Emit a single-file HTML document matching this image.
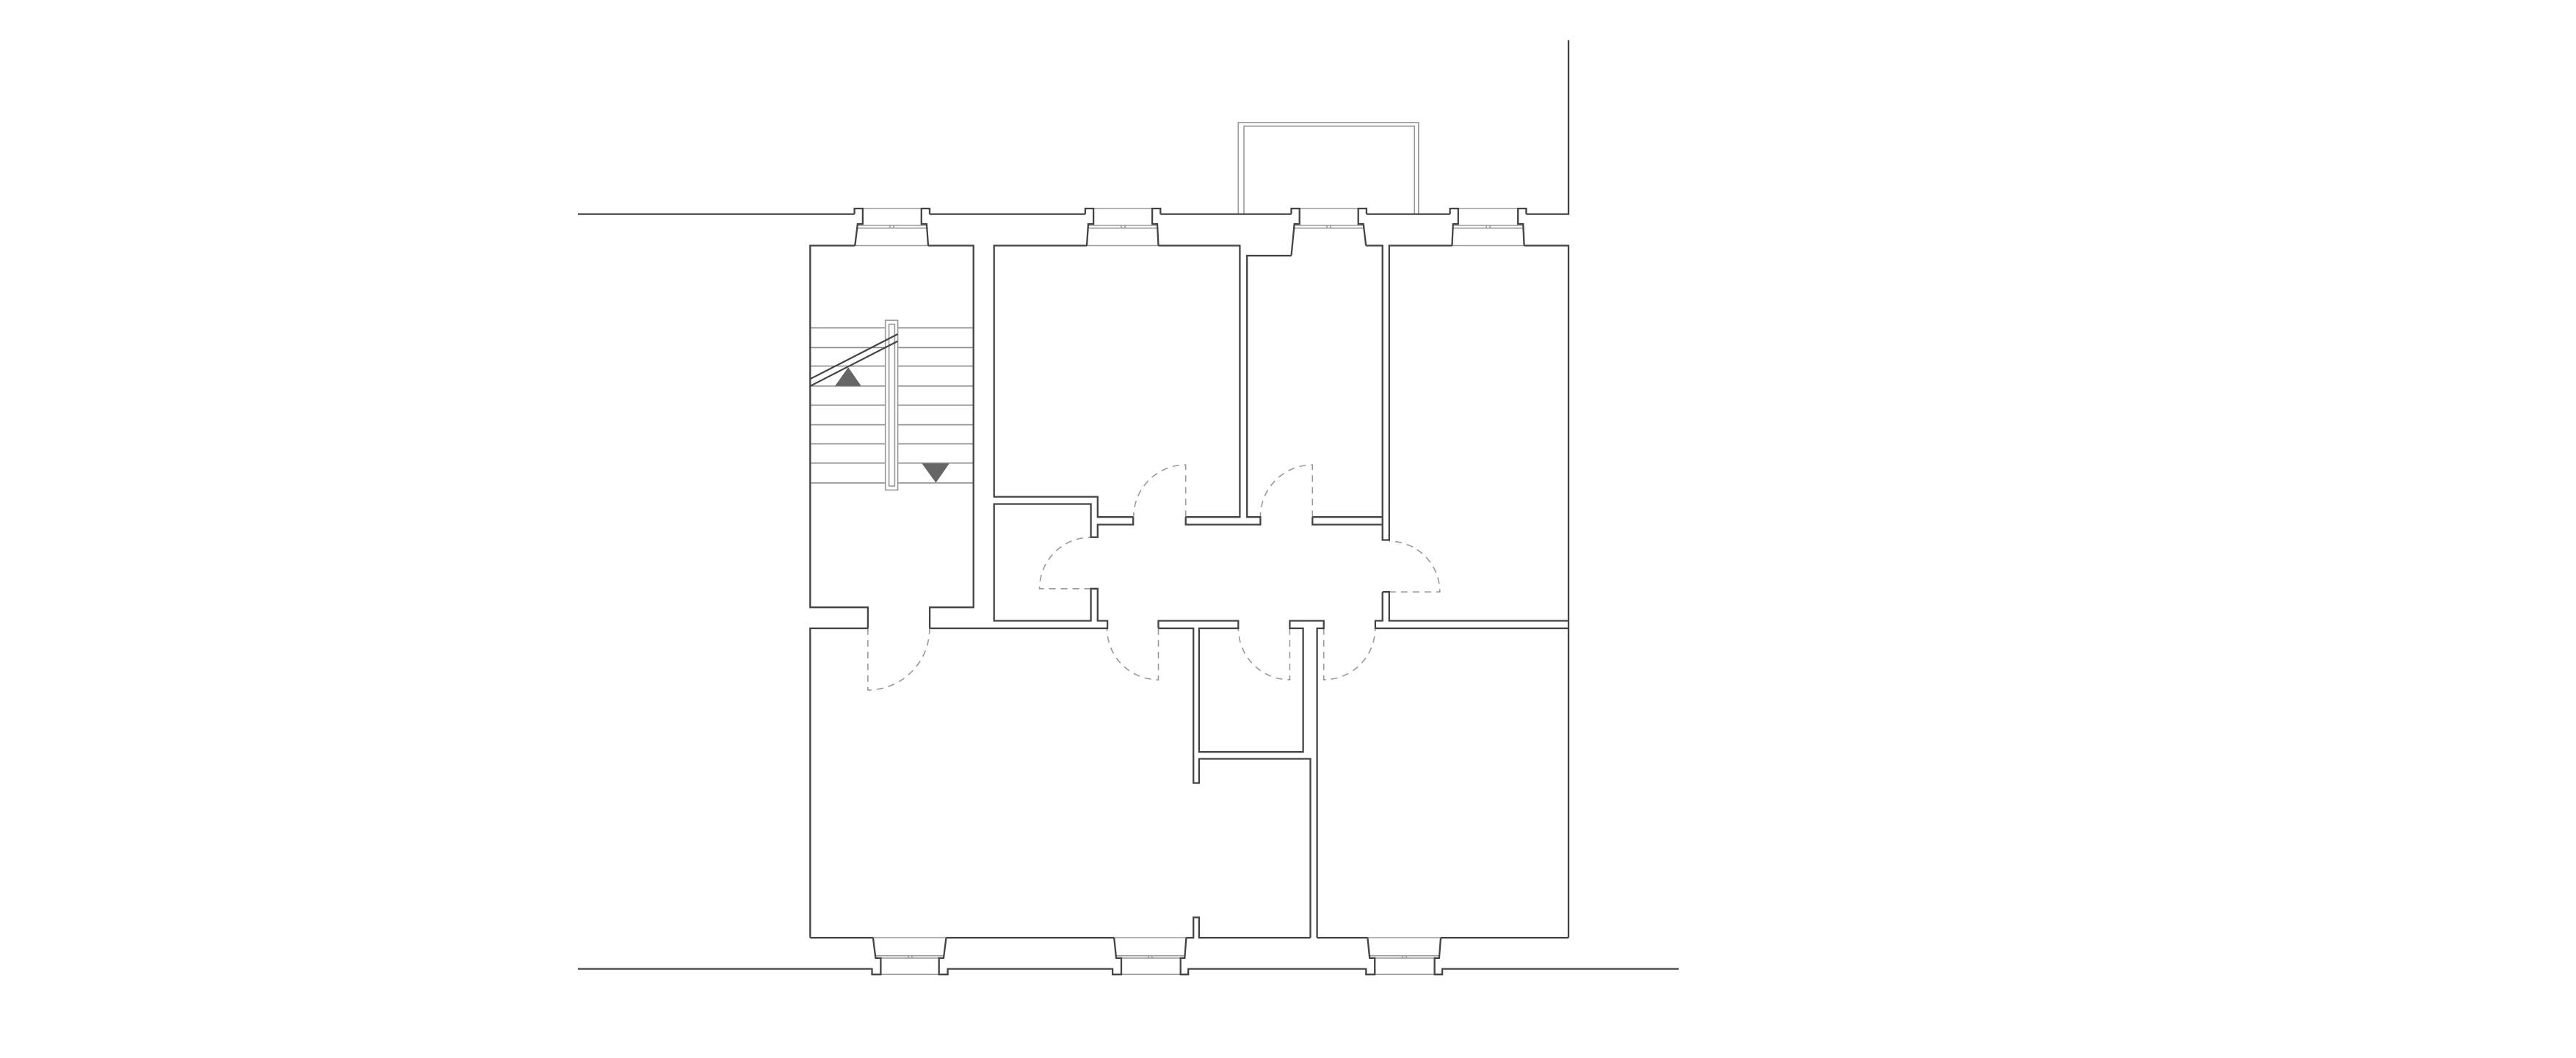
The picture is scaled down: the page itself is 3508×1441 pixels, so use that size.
<!DOCTYPE html>
<html><head><meta charset="utf-8"><style>
html,body{margin:0;padding:0;background:#fff;}
svg{display:block;}
</style></head><body>
<svg width="3508" height="1441" viewBox="0 0 3508 1441" xmlns="http://www.w3.org/2000/svg">
<rect width="3508" height="1441" fill="#fff"/>
<!-- light lines -->
<g fill="none" stroke="#9a9a9a" stroke-width="1.6">
  <!-- balcony -->
  <path d="M1686.3 291.6 V166.8 H1931.8 V291.6"/>
  <path d="M1694 291.6 V171.8 H1926.2 V291.6"/>
  <!-- top windows -->
  <path d="M1174.9 284 H1254.8 M1167.9 307 H1261.9 M1167.9 310.7 H1261.9 M1164.3 334.5 H1264 M1212 307 V310.7 M1217 307 V310.7"/>
  <path d="M1489.1 284 H1569.1 M1482 307 H1576 M1482 310.7 H1576 M1480 334.5 H1577.5 M1527 307 V310.7 M1532 307 V310.7"/>
  <path d="M1769.7 284 H1849.7 M1762.7 307 H1856.7 M1762.7 310.7 H1856.7 M1807 307 V310.7 M1812 307 V310.7"/>
  <path d="M1985.8 284 H2067.2 M1978.8 307 H2074.2 M1978.8 310.7 H2074.2 M1977.4 334.5 H2075.6 M2024 307 V310.7 M2029 307 V310.7"/>
  <!-- bottom windows -->
  <path d="M1199.4 1327.2 H1278.7 M1192.4 1301.7 H1285 M1192.4 1304.9 H1285 M1188.9 1277.2 H1288.5 M1237 1301.7 V1304.9 M1242 1301.7 V1304.9"/>
  <path d="M1527 1327.2 H1607.7 M1520 1301.7 H1613.3 M1520 1304.9 H1613.3 M1517.2 1277.2 H1615.4 M1564 1301.7 V1304.9 M1569 1301.7 V1304.9"/>
  <path d="M1872.2 1327.2 H1953.6 M1865.2 1301.7 H1959.9 M1865.2 1304.9 H1959.9 M1862.4 1277.2 H1962 M1910 1301.7 V1304.9 M1915 1301.7 V1304.9"/>
  <!-- stair treads -->
  <path stroke="#8a8a8a" d="M1103.3 446.6 H1325.7 M1103.3 473.4 H1325.7 M1103.3 498.6 H1325.7 M1103.3 525.8 H1325.7 M1103.3 551.8 H1325.7 M1103.3 578.6 H1325.7 M1103.3 604.6 H1325.7 M1103.3 630.7 H1325.7 M1103.3 657.8 H1325.7"/>
</g>
<!-- stair handrail -->
<rect x="1205.7" y="436.3" width="16.9" height="231.1" fill="#fff" stroke="#999" stroke-width="1.6"/>
<rect x="1210.6" y="441.6" width="7.8" height="220.4" fill="#fff" stroke="#999" stroke-width="1.6"/>
<path d="M1103.3 516.2 L1222.6 455 M1103.3 525.8 L1222.6 464.6" stroke="#444" stroke-width="2.2" fill="none"/>
<polygon points="1155.2,500.2 1137,525.8 1172.8,525.8" fill="#666"/>
<polygon points="1255.5,631.4 1292.7,631.4 1274.5,657.5" fill="#666"/>
<!-- dashed doors -->
<g fill="none" stroke="#999" stroke-width="1.6" stroke-dasharray="9 7">
  <path d="M1181.9 855.8 V939.8 A84 84 0 0 0 1265.9 855.8"/>
  <path d="M1614.7 704.2 V633.2 A71 71 0 0 0 1543.7 704.2"/>
  <path d="M1787.3 704.2 V633.2 A71 71 0 0 0 1716.3 704.2"/>
  <path d="M1485.6 801.8 H1415.6 A70 70 0 0 1 1485.6 731.8"/>
  <path d="M1891.8 806.2 H1960.8 A69 69 0 0 0 1891.8 737.2"/>
  <path d="M1577.5 855.8 V925.8 A70 70 0 0 1 1507.5 855.8"/>
  <path d="M1756.4 855.8 V925.8 A70 70 0 0 1 1686.4 855.8"/>
  <path d="M1802.7 855.8 V925.8 A70 70 0 0 0 1872.7 855.8"/>
</g>
<!-- walls -->
<g fill="none" stroke="#444" stroke-width="2.3" stroke-linejoin="miter">
  <!-- exterior top -->
  <path d="M787 291.6 H1163.6 M1266 291.6 H1477.9 M1580.3 291.6 H1758.5 M1860.9 291.6 H1974.6 M2078.4 291.6 H2136 V54.6"/>
  <!-- top window reveals -->
  <path d="M1163.6 291.6 V284 H1174.9 V305 H1167.9 L1164.3 334.5 M1266 291.6 V284 H1254.8 V305 H1261.9 L1264 334.5"/>
  <path d="M1477.9 291.6 V284 H1489.1 V305 H1482 L1480 334.5 M1580.3 291.6 V284 H1569.1 V305 H1576 L1577.5 334.5"/>
  <path d="M1758.5 291.6 V284 H1769.7 V305 H1762.7 L1758.5 348.2 M1860.9 291.6 V284 H1849.7 V305 H1856.7 L1860.2 334.5"/>
  <path d="M1974.6 291.6 V284 H1985.8 V305 H1978.8 L1977.4 334.5 M2078.4 291.6 V284 H2067.2 V305 H2074.2 L2075.6 334.5"/>
  <!-- stair -->
  <path d="M1164.3 334.5 H1103.3 V827.2 H1181.9 V855.8 M1264 334.5 H1325.7 V827.2 H1266.1 V855.8"/>
  <!-- room 2 -->
  <path d="M1480 334.5 H1353.7 V676.6 H1494.8 V704.2 H1543.2 M1577.5 334.5 H1688.4 V704.2 H1614.7"/>
  <path d="M1543.2 704.2 V714.5 H1494.8 V731.7 H1485.6 V686.5 H1353.7 V845.5 H1485.6 V801.8 H1494.8 V845.5 H1508.1 V855.8 H1266.1 M1181.9 855.8 H1103.3 V1277.2"/>
  <!-- room 3 -->
  <path d="M1758.5 348.2 H1698.2 V704.2 H1716.4 V714.5 H1614.7 V704.2"/>
  <path d="M1860.2 334.5 H1882.7 V735.5 H1891.8 V334.5 H1977.4 M1787.3 704.2 H1882.7 M1787.3 704.2 V714.5 H1882.7"/>
  <!-- room 4 -->
  <path d="M2075.6 334.5 H2136 V1277.2 M1882.7 806.2 H1891.8 V845.5 H2136 M1882.7 806.2 V845.5 H1872.9 V855.8 H2136"/>
  <!-- corridor lower / bath -->
  <path d="M1577.5 855.8 V845.5 H1686.3 V855.8 H1632.9 V1024.1 H1774.6 V855.8 H1756.4 V845.5 H1802.7 V855.8 H1793.6 V1277.2"/>
  <path d="M1577.5 855.8 H1625.2 V1066.5 H1632.9 V1033.5 H1784.5 V1277.2"/>
  <!-- bottom room lines -->
  <path d="M1103.3 1277.2 H1188.9 M1288.5 1277.2 H1517.2 M1615.4 1277.2 H1625.2 V1249.5 H1632.9 V1277.2 H1784.5 M1793.6 1277.2 H1862.4 M1962 1277.2 H2136"/>
  <!-- bottom exterior & reveals -->
  <path d="M787 1319.6 H1187.5 V1327.2 H1199.4 V1304.9 H1192.4 L1188.9 1277.2"/>
  <path d="M1288.5 1277.2 L1285 1304.9 H1278.7 V1327.2 H1290.6 V1319.6 H1515.1 V1327.2 H1527 V1304.9 H1520 L1517.2 1277.2"/>
  <path d="M1615.4 1277.2 L1613.3 1304.9 H1607.7 V1327.2 H1618.2 V1319.6 H1860.3 V1327.2 H1872.2 V1304.9 H1865.2 L1862.4 1277.2"/>
  <path d="M1962 1277.2 L1959.9 1304.9 H1953.6 V1327.2 H1964.1 V1319.6 H2286"/>
</g>
</svg>
</body></html>
